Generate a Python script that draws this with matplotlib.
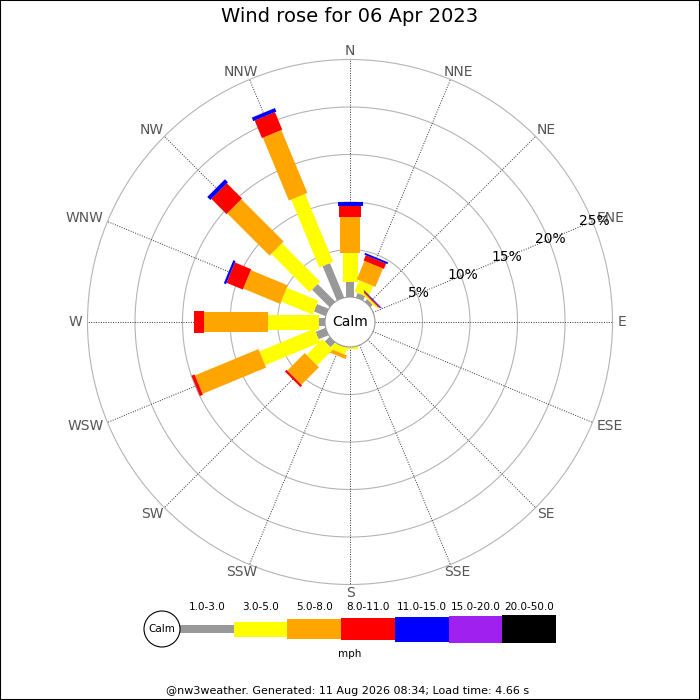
import numpy as np
import matplotlib
matplotlib.use('Agg')
import matplotlib.pyplot as plt
from matplotlib.patches import Polygon, Circle, Rectangle

# data: percent of time per direction, split by speed bin (mph)
directions = ['N', 'NNE', 'NE', 'ENE', 'E', 'ESE', 'SE', 'SSE',
              'S', 'SSW', 'SW', 'WSW', 'W', 'WNW', 'NW', 'NNW']
bins = ['1.0-3.0', '3.0-5.0', '5.0-8.0', '8.0-11.0', '11.0-15.0', '15.0-20.0', '20.0-50.0']
colors = ['#999999', '#ffff00', '#ffa500', '#ff0000', '#0000ff', '#a020f0', '#000000']

pct_1_3 = [1.55, 0.50, 0.35, 0, 0, 0, 0, 0, 0.00, 0.05, 0.70, 1.10, 0.60, 1.30, 2.60, 3.90]
pct_3_5 = [3.05, 1.30, 0.15, 0, 0, 0, 0, 0, 0.25, 0.70, 2.35, 6.26, 5.40, 3.60, 5.70, 7.74]
pct_5_8 = [3.85, 2.10, 0.10, 0, 0, 0, 0, 0, 0.00, 0.40, 2.60, 7.24, 6.70, 4.20, 6.30, 7.16]
pct_8_11 = [1.13, 0.60, 0.10, 0, 0, 0, 0, 0, 0.00, 0.00, 0.25, 0.35, 1.10, 1.85, 2.25, 2.00]
pct_11_15 = [0.39, 0.20, 0.08, 0, 0, 0, 0, 0, 0.00, 0.00, 0.00, 0.00, 0.00, 0.25, 0.45, 0.40]
pct_15_20 = [0] * 16
pct_20_50 = [0] * 16

ring_pcts = [5, 10, 15, 20, 25]
title = 'Wind rose for 06 Apr 2023'
footer = '@nw3weather. Generated: 11 Aug 2026 08:34; Load time: 4.66 s'

# layout (pixels)
cx, cy = 350, 322
r_calm = 25
px_per_pct = 9.5
bar_widths = [8, 15, 20, 22, 25, 27, 28]

def rad(p):
    return r_calm + p * px_per_pct

fig = plt.figure(figsize=(7, 7), dpi=100)
ax = fig.add_axes([0, 0, 1, 1])
ax.set_xlim(0, 700)
ax.set_ylim(700, 0)
ax.set_aspect('equal')
ax.axis('off')
renderer = fig.canvas.get_renderer()

# rings
for p in ring_pcts:
    ax.add_patch(Circle((cx, cy), rad(p), fill=False, ec='#b4b4b4', lw=0.8, zorder=1))

# spokes and compass labels (pushed out sideways by their width)
for i, d in enumerate(directions):
    th = np.deg2rad(i * 22.5)
    ux, uy = np.sin(th), -np.cos(th)
    ax.plot([cx + ux * r_calm, cx + ux * rad(25)], [cy + uy * r_calm, cy + uy * rad(25)],
            color='#333333', lw=0.7, ls=(0, (1, 1.5)), zorder=2)
    t = ax.text(0, 0, d, ha='center', va='center', fontsize=10, color='#555555', zorder=5)
    bb = t.get_window_extent(renderer)
    t.set_position((cx + ux * (268 + bb.width / 2), cy + uy * 271))

# percent labels along ENE
th = np.deg2rad(67.5)
for p in ring_pcts:
    r = rad(p) + 2
    ax.text(cx + np.sin(th) * r, cy - np.cos(th) * r, '%d%%' % p, ha='center', va='center',
            fontsize=10, color='black', zorder=6)

# bars
series = [pct_1_3, pct_3_5, pct_5_8, pct_8_11, pct_11_15, pct_15_20, pct_20_50]
for i in range(len(directions)):
    th = np.deg2rad(i * 22.5)
    u = np.array([np.sin(th), -np.cos(th)])
    v = np.array([np.cos(th), np.sin(th)])
    c = np.array([cx, cy])
    start = 0.0
    for k, s in enumerate(series):
        val = s[i]
        if val <= 0:
            continue
        r0, r1 = rad(start) if start > 0 else 0, rad(start + val)
        w = bar_widths[k] / 2
        pts = [c + u * r0 - v * w, c + u * r1 - v * w, c + u * r1 + v * w, c + u * r0 + v * w]
        ax.add_patch(Polygon(pts, closed=True, fc=colors[k], ec='none', zorder=3))
        start += val

# calm circle
ax.add_patch(Circle((cx, cy), r_calm, fc='white', ec='#999999', lw=0.8, zorder=4))
ax.text(cx, cy, 'Calm', ha='center', va='center', fontsize=10, zorder=5)

ax.text(350, 17, title, ha='center', va='center', fontsize=14)

# legend
lx0, ly, lw = 180, 629, 53.7
ax.add_patch(Circle((162, ly), 18, fc='white', ec='black', lw=0.8, zorder=4))
ax.text(162, ly, 'Calm', ha='center', va='center', fontsize=7.5, zorder=5)
for k, b in enumerate(bins):
    h = bar_widths[k] if k > 0 else 8
    ax.add_patch(Rectangle((lx0 + k * lw, ly - h / 2), lw, h, fc=colors[k], ec='none', zorder=3))
    ax.text(lx0 + (k + 0.5) * lw, 607, b, ha='center', va='center', fontsize=7.5)
ax.text(350, 654, 'mph', ha='center', va='center', fontsize=7.5)

ax.text(348, 691, footer, ha='center', va='center', fontsize=8)

fig.patches.append(Rectangle((0, 0), 1, 1, transform=fig.transFigure, fill=False,
                             ec='black', lw=1.5))

fig.savefig('out.png', dpi=100)
